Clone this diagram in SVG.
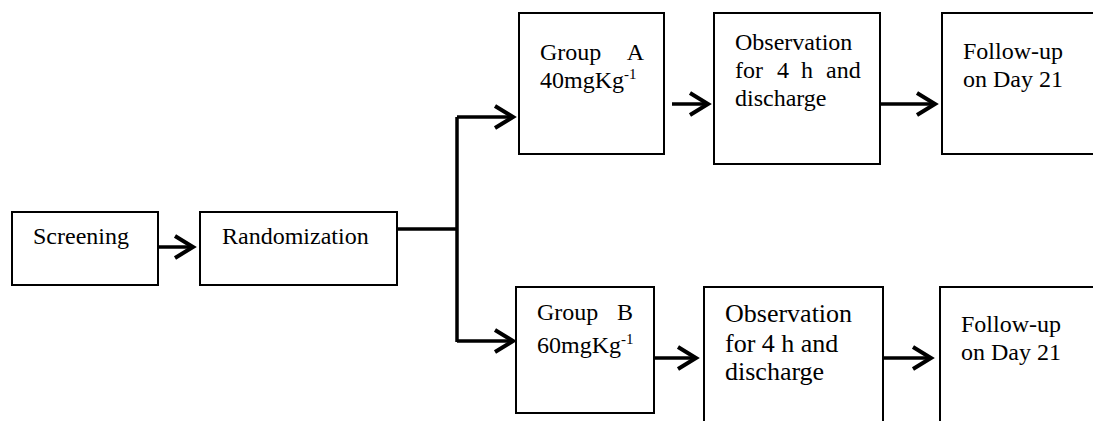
<svg xmlns="http://www.w3.org/2000/svg" width="1093" height="421" viewBox="0 0 1093 421">
<style>
.box{fill:#fff;stroke:#000;stroke-width:2}
.t{font-family:"Liberation Serif","Times New Roman",serif;font-size:24px;fill:#000}
.t2{font-family:"Liberation Serif","Times New Roman",serif;font-size:26px;fill:#000}
.sup{font-size:15px}
.c{fill:none;stroke:#000;stroke-width:3.5}
</style>
<defs>
<marker id="ah" markerUnits="userSpaceOnUse" viewBox="-22 -14 26 28" refX="0" refY="0" markerWidth="26" markerHeight="28" orient="auto" overflow="visible">
<path d="M -18 -11 L 0 0 L -18 11" fill="none" stroke="#000" stroke-width="4" stroke-linejoin="miter"/>
</marker>
</defs>
<g id="connectors">
<line class="c" x1="158" y1="247" x2="193" y2="247" marker-end="url(#ah)"/>
<polyline class="c" points="397,229 457,229"/>
<polyline class="c" points="457,117 457,342"/>
<polyline class="c" points="457,117 513,117" marker-end="url(#ah)"/>
<polyline class="c" points="457,341 513,341" marker-end="url(#ah)"/>
<line class="c" x1="672" y1="104" x2="708" y2="104" marker-end="url(#ah)"/>
<line class="c" x1="880" y1="104" x2="935" y2="104" marker-end="url(#ah)"/>
<line class="c" x1="654" y1="358" x2="696" y2="358" marker-end="url(#ah)"/>
<line class="c" x1="883" y1="358" x2="931" y2="358" marker-end="url(#ah)"/>
</g>
<g id="screening">
<rect class="box" x="12" y="212" width="146" height="73"/>
<text class="t" x="33" y="244">Screening</text>
</g>
<g id="randomization">
<rect class="box" x="200" y="212" width="197" height="73"/>
<text class="t" x="222" y="244">Randomization</text>
</g>
<g id="groupA">
<rect class="box" x="519" y="13" width="145" height="141"/>
<text class="t" x="540" y="60">Group</text>
<text class="t" x="644" y="60" text-anchor="end">A</text>
<text class="t" x="540" y="88">40mgKg<tspan class="sup" dy="-9">-1</tspan></text>
</g>
<g id="obsA">
<rect class="box" x="714" y="13" width="166" height="151"/>
<text class="t" x="735" y="50">Observation</text>
<text class="t" y="78"><tspan x="735">for</tspan><tspan x="777">4</tspan><tspan x="801">h</tspan><tspan x="826">and</tspan></text>
<text class="t" x="735" y="106">discharge</text>
</g>
<g id="followA">
<rect class="box" x="942" y="13" width="160" height="141"/>
<text class="t" x="963" y="59">Follow-up</text>
<text class="t" x="963" y="87">on Day 21</text>
</g>
<g id="groupB">
<rect class="box" x="516" y="287" width="138" height="126"/>
<text class="t" x="537" y="320">Group</text>
<text class="t" x="633" y="320" text-anchor="end">B</text>
<text class="t" x="537" y="353">60mgKg<tspan class="sup" dy="-9">-1</tspan></text>
</g>
<g id="obsB">
<rect class="box" x="704" y="287" width="179" height="150"/>
<text class="t2" x="725" y="322">Observation</text>
<text class="t2" x="725" y="352">for 4 h and</text>
<text class="t2" x="725" y="380">discharge</text>
</g>
<g id="followB">
<rect class="box" x="940" y="287" width="160" height="150"/>
<text class="t" x="961" y="332">Follow-up</text>
<text class="t" x="961" y="360">on Day 21</text>
</g>
</svg>
